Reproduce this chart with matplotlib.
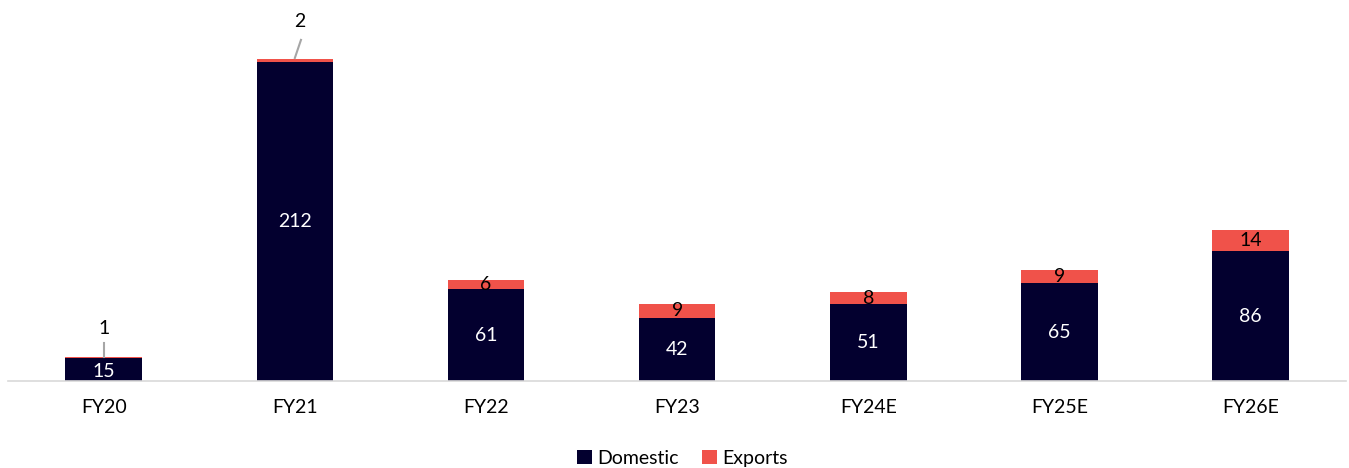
import matplotlib
matplotlib.use("Agg")
import matplotlib.pyplot as plt
import numpy as np

categories = ["FY20", "FY21", "FY22", "FY23", "FY24E", "FY25E", "FY26E"]
domestic = [15, 212, 61, 42, 51, 65, 86]
exports = [1, 2, 6, 9, 8, 9, 14]

plt.rcParams['font.family'] = ['Lato', 'DejaVu Sans']
navy = "#03002F"
red = "#F0524A"
fs = 14

fig = plt.figure(figsize=(13.49, 4.68), dpi=100)
ax = fig.add_axes([0.006, 0.186, 0.992, 0.814])
x = np.arange(len(categories))
w = 0.4
ax.bar(x, domestic, w, color=navy, label="Domestic")
ax.bar(x, exports, w, bottom=domestic, color=red, label="Exports")
ax.set_xlim(-0.5, len(categories) - 0.5)
ax.set_ylim(0, 253)

for i in range(len(categories)):
    ax.text(x[i], domestic[i] / 2 if domestic[i] > 20 else domestic[i] / 2 - 1,
            str(domestic[i]), ha="center", va="center", color="white", fontsize=fs)
    if exports[i] >= 5:
        ax.text(x[i], domestic[i] + exports[i] / 2, str(exports[i]),
                ha="center", va="center", color="black", fontsize=fs)

# leader-line labels for small export values
top0 = domestic[0] + exports[0]
ax.plot([x[0], x[0]], [top0, top0 + 9], color="#A6A6A6", lw=1.5)
ax.text(x[0], top0 + 19, str(exports[0]), ha="center", va="center", fontsize=fs)
top1 = domestic[1] + exports[1]
ax.plot([x[1], x[1] + 0.032], [top1 + 0.5, top1 + 12.5], color="#A6A6A6", lw=1.5)
ax.text(x[1] + 0.025, top1 + 24.5, str(exports[1]), ha="center", va="center", fontsize=fs)

for s in ["top", "right", "left"]:
    ax.spines[s].set_visible(False)
ax.spines["bottom"].set_color("#D9D9D9")
ax.spines["bottom"].set_linewidth(1.2)
ax.set_yticks([])
ax.set_xticks(x)
ax.set_xticklabels(categories, fontsize=fs)
ax.tick_params(axis="x", length=0, pad=13)

fig.legend(loc="center", bbox_to_anchor=(0.506, 0.02), ncol=2, frameon=False,
           fontsize=fs, handlelength=0.75, handleheight=0.75, handletextpad=0.3,
           columnspacing=1.2)
fig.savefig("out.png", dpi=100)
